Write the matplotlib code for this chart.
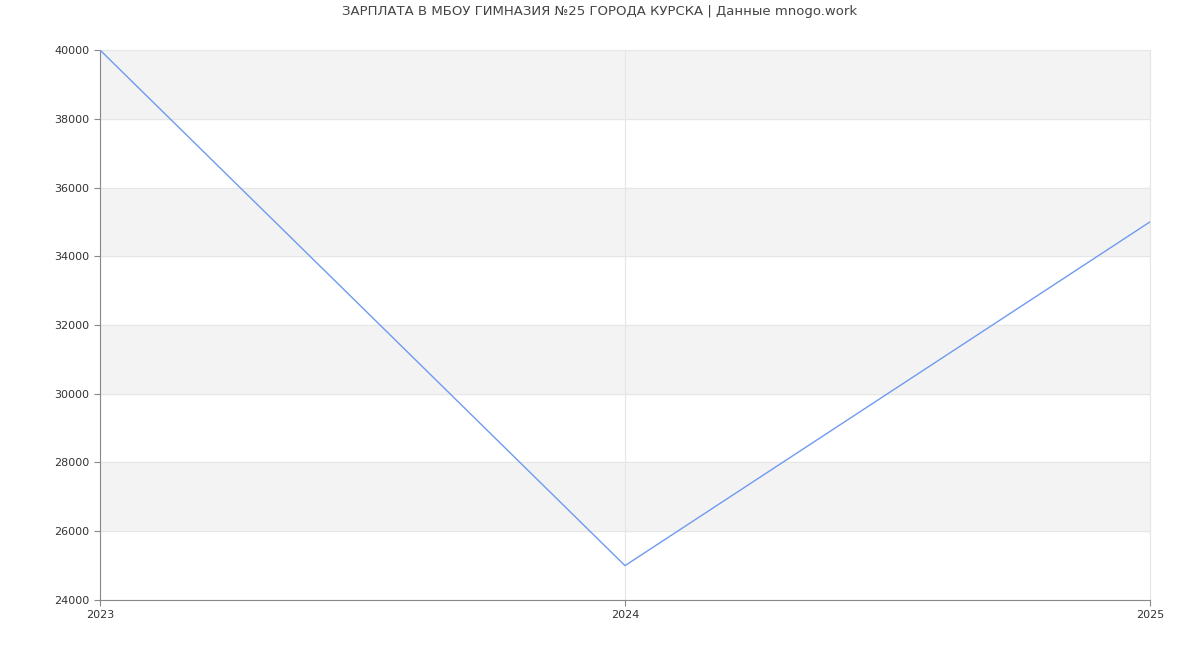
import matplotlib.pyplot as plt

years = [2023, 2024, 2025]
salary = [40000, 25000, 35000]
y_ticks = list(range(24000, 40001, 2000))

fig = plt.figure(figsize=(12, 6.5), dpi=100)
ax = fig.add_axes([100 / 1200, 50 / 650, 1050 / 1200, 550 / 650])

# alternating grey bands
for lo in range(26000, 40000, 4000):
    ax.axhspan(lo, lo + 2000, color="#f3f3f3", zorder=0)

ax.plot(years, salary, color="#6f9af0", linewidth=1, zorder=3)

ax.set_xlim(2023, 2025)
ax.set_ylim(24000, 40000)
ax.set_xticks(years)
ax.set_yticks(y_ticks)
ax.grid(True, color="#e6e6e6", linewidth=0.8, zorder=1)
ax.set_axisbelow(True)

for side in ["top", "right"]:
    ax.spines[side].set_color("#e6e6e6")
for side in ["left", "bottom"]:
    ax.spines[side].set_color("#888888")
ax.tick_params(labelsize=8, colors="#333333", length=4)
ax.tick_params(axis="both", color="#888888")

fig.suptitle("ЗАРПЛАТА В МБОУ ГИМНАЗИЯ №25 ГОРОДА КУРСКА | Данные mnogo.work",
             y=0.993, fontsize=9.5, color="#444444")

fig.savefig("out.png", dpi=100)
